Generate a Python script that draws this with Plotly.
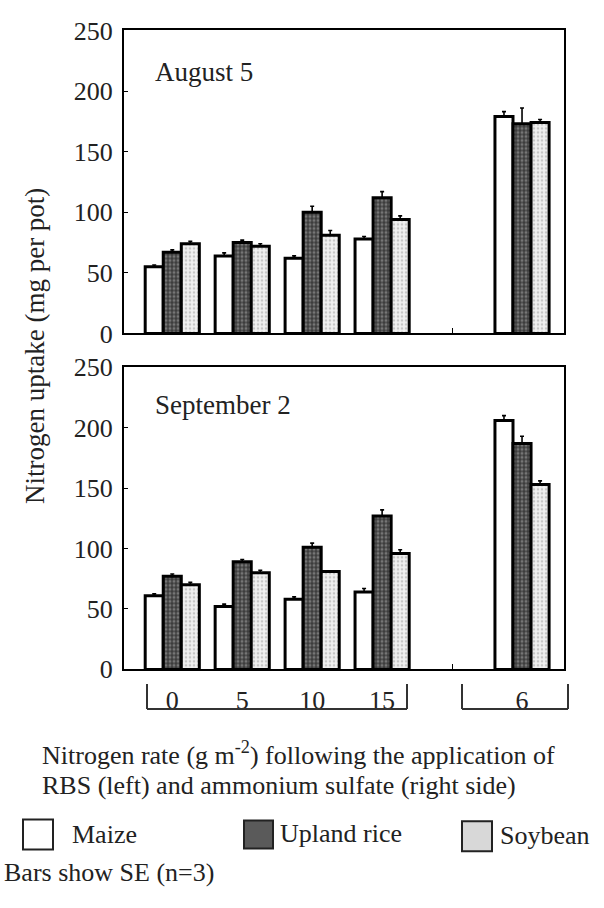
import plotly.graph_objects as go

# ---------------- data ----------------
rates = ["0", "5", "10", "15", "6"]          # N rate (RBS: 0,5,10,15 ; ammonium sulfate: 6)
axis_order = ["0", "5", "10", "15", None, "6"]  # slot layout, None = gap between RBS and AS groups
species = ["Maize", "Upland rice", "Soybean"]

maize_aug = [55, 64, 62, 78, 179]
rice_aug = [67, 75, 100, 112, 173]
soy_aug = [74, 72, 81, 94, 174]
maize_aug_se = [1.5, 2.5, 2, 2, 4]
rice_aug_se = [2, 2, 5, 5, 13]
soy_aug_se = [2, 2, 4, 3, 2.5]

maize_sep = [61, 52, 58, 64, 206]
rice_sep = [77, 89, 101, 127, 187]
soy_sep = [70, 80, 81, 96, 153]
maize_sep_se = [1.5, 2, 2, 3, 4]
rice_sep_se = [2, 2, 3.5, 5, 6]
soy_sep_se = [2, 2, 0.5, 3, 3]

yticks = [0, 50, 100, 150, 200, 250]

# slot index of each rate on the x axis (derived from the layout order)
slots = [axis_order.index(r) for r in rates]
gap_slot = axis_order.index(None)

# ---------------- styling ----------------
FONT = "Liberation Serif"
TXT = "#222222"
W, H = 604, 908

def px_x(x):
    return x / W

def px_y(y):
    return 1 - y / H

styles = {
    "Maize": dict(color="white", line=dict(color="black", width=3)),
    "Upland rice": dict(color="#4a4a4a", line=dict(color="black", width=3),
                        pattern=dict(shape=".", fgcolor="#b0b0b0", bgcolor="#3c3c3c",
                                     size=4, solidity=0.45)),
    "Soybean": dict(color="#e6e6e6", line=dict(color="black", width=3),
                    pattern=dict(shape=".", fgcolor="#9a9a9a", bgcolor="#f0f0f0",
                                 size=4, solidity=0.35)),
}

fig = go.Figure()

panels = [
    ("x", "y", [maize_aug, rice_aug, soy_aug], [maize_aug_se, rice_aug_se, soy_aug_se]),
    ("x2", "y2", [maize_sep, rice_sep, soy_sep], [maize_sep_se, rice_sep_se, soy_sep_se]),
]
for xa, ya, vals, ses in panels:
    for name, v, se in zip(species, vals, ses):
        fig.add_trace(go.Bar(
            x=slots, y=v, name=name, xaxis=xa, yaxis=ya, showlegend=False,
            marker=styles[name],
            error_y=dict(type="data", symmetric=False, array=se,
                         arrayminus=[0] * len(se), color="black",
                         thickness=1.6, width=2),
        ))

xdom = [px_x(124), px_x(564)]
common_x = dict(
    range=[-0.69, 5.6], showline=True, mirror=True, linecolor="black",
    linewidth=2, ticks="", tickmode="array", tickvals=slots, ticktext=rates,
    minor=dict(tickmode="array", tickvals=[gap_slot], ticks="inside",
               ticklen=5, tickcolor="black", tickwidth=1, showgrid=False),
    showgrid=False, zeroline=False, domain=xdom,
    tickfont=dict(family=FONT, size=26, color=TXT),
)
common_y = dict(
    range=[0, 250], tickvals=yticks, showline=True, mirror=True,
    linecolor="black", linewidth=2, ticks="inside", ticklen=4,
    tickcolor="black", showgrid=False, zeroline=False,
    tickfont=dict(family=FONT, size=26, color=TXT), ticklabelstandoff=4,
)

fig.update_layout(
    width=W, height=H,
    margin=dict(l=0, r=0, t=0, b=0),
    paper_bgcolor="white", plot_bgcolor="white",
    barmode="group", bargap=0.226, bargroupgap=0,
    xaxis=dict(common_x, anchor="y", showticklabels=False),
    yaxis=dict(common_y, anchor="x", domain=[px_y(330), px_y(17)]),
    xaxis2=dict(common_x, anchor="y2", showticklabels=True, ticklabelstandoff=6),
    yaxis2=dict(common_y, anchor="x2", domain=[px_y(677), px_y(365)]),
)

ann = []
def text(x, y, s, size=26, xanchor="left", angle=0):
    ann.append(dict(text=s, x=px_x(x), y=px_y(y), xref="paper", yref="paper",
                    xanchor=xanchor, yanchor="middle", showarrow=False,
                    textangle=angle, font=dict(family=FONT, size=size, color=TXT)))

text(153, 60, "August 5", size=27)
text(153, 404, "September 2", size=27)
text(35, 343, "Nitrogen uptake (mg per pot)", size=27, xanchor="center", angle=-90)
text(40, 764, "Nitrogen rate (g m<sup>-2</sup>) following the application of")
text(40, 797, "RBS (left) and ammonium sulfate (right side)")
text(70, 848, "Maize")
text(278, 847, "Upland rice")
text(498, 849, "Soybean")
text(2, 887, "Bars show SE (n=3)")
fig.update_layout(annotations=ann)

shapes = []
def line(x0, y0, x1, y1, w=2):
    shapes.append(dict(type="line", xref="paper", yref="paper",
                       x0=px_x(x0), y0=px_y(y0), x1=px_x(x1), y1=px_y(y1),
                       line=dict(color="#333333", width=w)))

# brackets under the x axis
line(147, 692, 147, 718)
line(147, 718, 407, 718)
line(407, 692, 407, 718)
line(462, 692, 462, 718)
line(462, 718, 568, 718)
line(568, 692, 568, 718)

def box(x0, y0, x1, y1, fill):
    shapes.append(dict(type="rect", xref="paper", yref="paper",
                       x0=px_x(x0), y0=px_y(y0), x1=px_x(x1), y1=px_y(y1),
                       fillcolor=fill, line=dict(color="#222222", width=2)))

box(23, 832, 53, 863, "white")
box(244, 833, 273, 862, "#5a5a5a")
box(462, 834, 492, 865, "#d8d8d8")
fig.update_layout(shapes=shapes)

fig.write_html("out.html")
